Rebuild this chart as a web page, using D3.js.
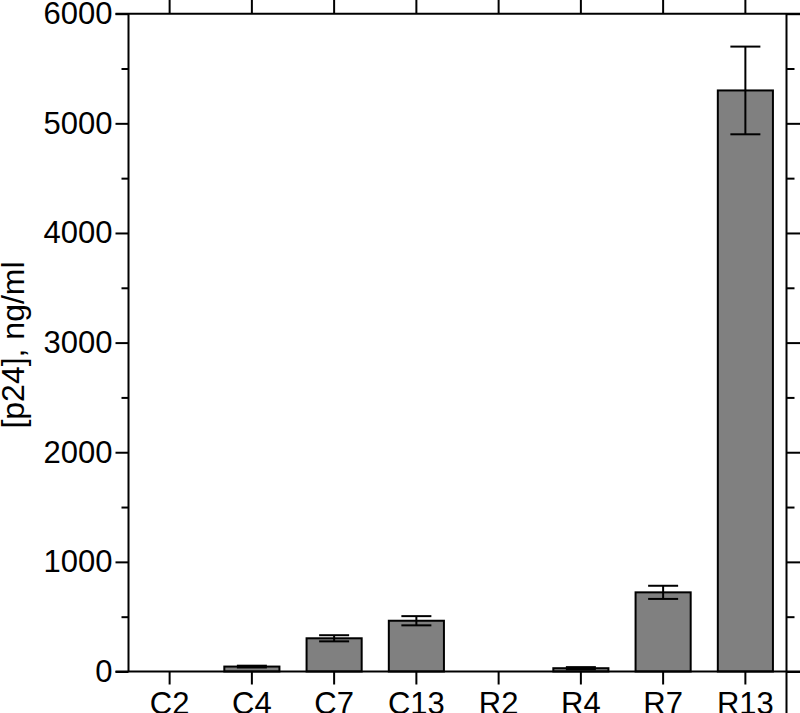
<!DOCTYPE html>
<html>
<head>
<meta charset="utf-8">
<script src="https://cdn.jsdelivr.net/npm/d3@7"></script>
<style>
  html, body { margin: 0; padding: 0; background: #fff; }
  svg { display: block; }
  text { font-family: "Liberation Sans", Arial, sans-serif; fill: #000; }
</style>
</head>
<body>
<svg id="chart" width="800" height="713"></svg>
<script>
const categories = ["C2", "C4", "C7", "C13", "R2", "R4", "R7", "R13"];
const means = [0, 45, 303, 463, 0, 30, 722, 5300];
const errors = [0, 8, 28, 42, 0, 10, 60, 400];
const majorTicks = [0, 1000, 2000, 3000, 4000, 5000, 6000];
const minorTicks = [500, 1500, 2500, 3500, 4500, 5500];
const yTitle = "[p24], ng/ml";

(function () {
const svg = d3.select("#chart");
const W = 800, H = 713;
const mLeft = 128.5, mRight = 786.5, mTop = 13.7, mBottom = 671.5;
const FS = 31;

const x = d3.scaleBand().domain(categories).range([mLeft, mRight])
  .paddingInner(0.33).paddingOuter(0.165);
const y = d3.scaleLinear().domain([0, 6000]).range([mBottom, mTop]);

const data = categories.map((c, i) => ({ c, m: means[i], e: errors[i] }));

// bars
svg.append("g").selectAll("rect").data(data.filter(d => d.m > 0)).join("rect")
  .attr("x", d => x(d.c))
  .attr("y", d => y(d.m))
  .attr("width", x.bandwidth())
  .attr("height", d => y(0) - y(d.m))
  .attr("fill", "#808080")
  .attr("stroke", "#000")
  .attr("stroke-width", 2);

// error bars
const capW = 30;
const cx = d => x(d.c) + x.bandwidth() / 2;
const eb = svg.append("g").selectAll("g").data(data.filter(d => d.e > 0)).join("g");
eb.append("line")
  .attr("x1", cx).attr("x2", cx)
  .attr("y1", d => y(d.m - d.e)).attr("y2", d => y(d.m + d.e))
  .attr("stroke", "#000").attr("stroke-width", 2);
eb.append("line")
  .attr("x1", d => cx(d) - capW / 2).attr("x2", d => cx(d) + capW / 2)
  .attr("y1", d => y(d.m + d.e)).attr("y2", d => y(d.m + d.e))
  .attr("stroke", "#000").attr("stroke-width", 2);
eb.append("line")
  .attr("x1", d => cx(d) - capW / 2).attr("x2", d => cx(d) + capW / 2)
  .attr("y1", d => y(d.m - d.e)).attr("y2", d => y(d.m - d.e))
  .attr("stroke", "#000").attr("stroke-width", 2);

// frame lines
const lineStyle = sel => sel.attr("stroke", "#000").attr("stroke-width", 2);
svg.append("line").attr("x1", mLeft - 13).attr("x2", W).attr("y1", y(6000)).attr("y2", y(6000)).call(lineStyle);
svg.append("line").attr("x1", mLeft - 13).attr("x2", W).attr("y1", y(0)).attr("y2", y(0)).call(lineStyle);
svg.append("line").attr("x1", mLeft).attr("x2", mLeft).attr("y1", y(6000)).attr("y2", y(0)).call(lineStyle);
svg.append("line").attr("x1", mRight).attr("x2", mRight).attr("y1", y(6000)).attr("y2", H).call(lineStyle);

function styleAxis(g) {
  g.select(".domain").remove();
  g.selectAll(".tick line").attr("stroke", "#000").attr("stroke-width", 2);
  g.selectAll(".tick text").attr("font-size", FS).attr("fill", "#000")
    .attr("font-family", "'Liberation Sans', Arial, sans-serif");
}

// left axis
svg.append("g").attr("transform", `translate(${mLeft},0)`)
  .call(d3.axisLeft(y).tickValues(majorTicks).tickSize(13).tickPadding(3).tickFormat(d3.format("d")))
  .call(styleAxis);
svg.append("g").attr("transform", `translate(${mLeft},0)`)
  .call(d3.axisLeft(y).tickValues(minorTicks).tickSize(7).tickFormat(""))
  .call(styleAxis);

// right axis
svg.append("g").attr("transform", `translate(${mRight},0)`)
  .call(d3.axisRight(y).tickValues(majorTicks).tickSize(14).tickFormat(""))
  .call(styleAxis);
svg.append("g").attr("transform", `translate(${mRight},0)`)
  .call(d3.axisRight(y).tickValues(minorTicks).tickSize(8).tickFormat(""))
  .call(styleAxis);

// bottom axis
svg.append("g").attr("transform", `translate(0,${y(0)})`)
  .call(d3.axisBottom(x).tickSize(13).tickPadding(7).tickSizeOuter(0))
  .call(styleAxis);

// top axis (ticks only)
svg.append("g").attr("transform", `translate(0,${y(6000)})`)
  .call(d3.axisTop(x).tickSize(14).tickFormat("").tickSizeOuter(0))
  .call(styleAxis);

// y title
svg.append("text")
  .attr("transform", `translate(24,345) rotate(-90)`)
  .attr("text-anchor", "middle")
  .attr("font-size", FS + 1)
  .text(yTitle);
})();
</script>
</body>
</html>
